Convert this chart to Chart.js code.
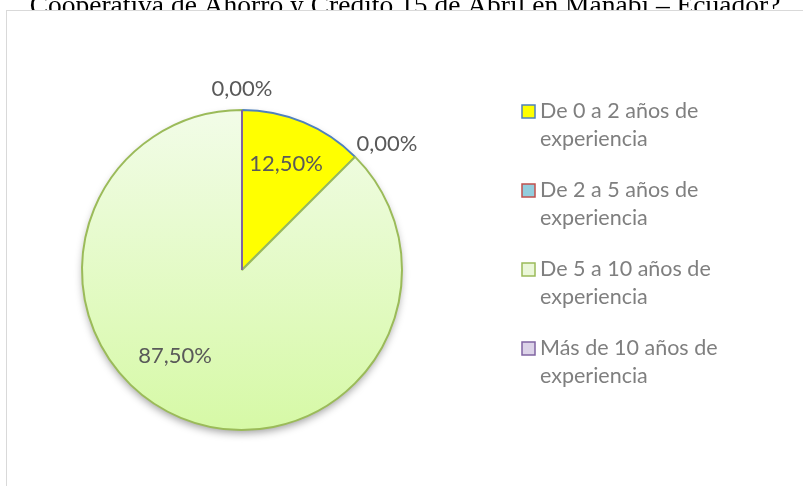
<!DOCTYPE html>
<html>
<head>
<meta charset="utf-8">
<script src="https://cdn.jsdelivr.net/npm/chart.js@4.4.1/dist/chart.umd.min.js"></script>
<style>
  html, body { margin: 0; padding: 0; background: #fff; overflow: hidden; }
  canvas { display: block; }
</style>
</head>
<body>
<canvas id="pieChart" width="803" height="486"></canvas>
<script>
var title = 'Cooperativa de Ahorro y Crédito 15 de Abril en Manabí – Ecuador?';
var labels = [
    ['De 0 a 2 años de', 'experiencia'],
    ['De 2 a 5 años de', 'experiencia'],
    ['De 5 a 10 años de', 'experiencia'],
    ['Más de 10 años de', 'experiencia']
];
var values = [12.5, 0, 87.5, 0];
var fills = ['#ffff00', '#93cddd', '#e4f8cc', '#dcd3e8'];
var borders = ['#4f81bd', '#c0504d', '#9bbb59', '#8064a2'];

var fontName = 'Lato, "Open Sans", sans-serif';

function fmt(v) {
    return v.toFixed(2).replace('.', ',') + '%';
}

// green slice gets a soft vertical gradient like the original
function sliceFill(c) {
    var i = c.dataIndex;
    if (i !== 2) return fills[i];
    var area = c.chart.chartArea;
    if (!area) return fills[i];
    var g = c.chart.ctx.createLinearGradient(0, area.top, 0, area.bottom);
    g.addColorStop(0, '#f2fce8');
    g.addColorStop(1, '#d6f9a6');
    return g;
}

// where each label sits: radius factor and angle shift (radians) from the slice middle
var labelRadius = [0.72, 1.2, 0.68, 1.13];
var labelShift = [0, 0.07, 0.27, 0];

var pieExtras = {
    id: 'pieExtras',
    beforeDraw: function (chart) {
        var ctx = chart.ctx;
        ctx.save();
        // title sits behind the chart box, so only its top shows
        ctx.font = '27.5px "Liberation Serif", "Times New Roman", serif';
        ctx.fillStyle = '#000';
        ctx.textAlign = 'center';
        ctx.textBaseline = 'alphabetic';
        ctx.fillText(title, 405, 14);
        ctx.fillStyle = '#fff';
        ctx.fillRect(6, 10, 803, 486);
        ctx.strokeStyle = '#d9d9d9';
        ctx.lineWidth = 1;
        ctx.strokeRect(6.5, 10.5, 820, 500);
        ctx.restore();
    },
    beforeDatasetsDraw: function (chart) {
        var ctx = chart.ctx;
        ctx.save();
        ctx.shadowColor = 'rgba(0,0,0,0.4)';
        ctx.shadowBlur = 8;
        ctx.shadowOffsetY = 4;
        var a = chart.getDatasetMeta(0).data[2];
        ctx.beginPath();
        ctx.arc(a.x, a.y, a.outerRadius - 1, 0, Math.PI * 2);
        ctx.fillStyle = '#d6f9a6';
        ctx.fill();
        ctx.restore();
    },
    afterDatasetsDraw: function (chart) {
        var ctx = chart.ctx;
        var arcs = chart.getDatasetMeta(0).data;
        // zero slices still show their border line
        arcs.forEach(function (a, i) {
            if (values[i] !== 0 || i === 1) return;
            ctx.save();
            ctx.strokeStyle = borders[i];
            ctx.lineWidth = 2;
            ctx.beginPath();
            ctx.moveTo(a.x, a.y);
            ctx.lineTo(a.x + Math.cos(a.startAngle) * a.outerRadius, a.y + Math.sin(a.startAngle) * a.outerRadius);
            ctx.stroke();
            ctx.restore();
        });
        // data labels
        ctx.save();
        ctx.font = '22px ' + fontName;
        ctx.fillStyle = '#595959';
        ctx.textAlign = 'center';
        ctx.textBaseline = 'middle';
        arcs.forEach(function (a, i) {
            var mid = (a.startAngle + a.endAngle) / 2 + labelShift[i];
            var r = a.outerRadius * labelRadius[i];
            ctx.fillText(fmt(values[i]), a.x + Math.cos(mid) * r, a.y + Math.sin(mid) * r);
        });
        ctx.restore();
        // legend
        ctx.save();
        ctx.font = '21.5px ' + fontName;
        ctx.textBaseline = 'alphabetic';
        ctx.textAlign = 'left';
        labels.forEach(function (lines, i) {
            var base = 118 + i * 79;
            ctx.fillStyle = i === 2 ? '#ebf7d9' : fills[i];
            ctx.fillRect(522, base - 13, 13, 13);
            ctx.strokeStyle = borders[i];
            ctx.lineWidth = 1.5;
            ctx.strokeRect(522, base - 13, 13, 13);
            ctx.fillStyle = '#7f7f7f';
            ctx.fillText(lines[0], 540, base);
            ctx.fillText(lines[1], 540, base + 28);
        });
        ctx.restore();
    }
};

var ctx = document.getElementById('pieChart').getContext('2d');
var pieChart = new Chart(ctx, {
    type: 'pie',
    data: {
        labels: labels,
        datasets: [{
            data: values,
            backgroundColor: sliceFill,
            borderColor: borders,
            borderWidth: 2
        }]
    },
    options: {
        responsive: false,
        animation: false,
        layout: { padding: { left: 81, right: 400, top: 109, bottom: 55 } },
        plugins: {
            legend: { display: false },
            tooltip: { enabled: false }
        }
    },
    plugins: [pieExtras]
});
</script>
</body>
</html>
